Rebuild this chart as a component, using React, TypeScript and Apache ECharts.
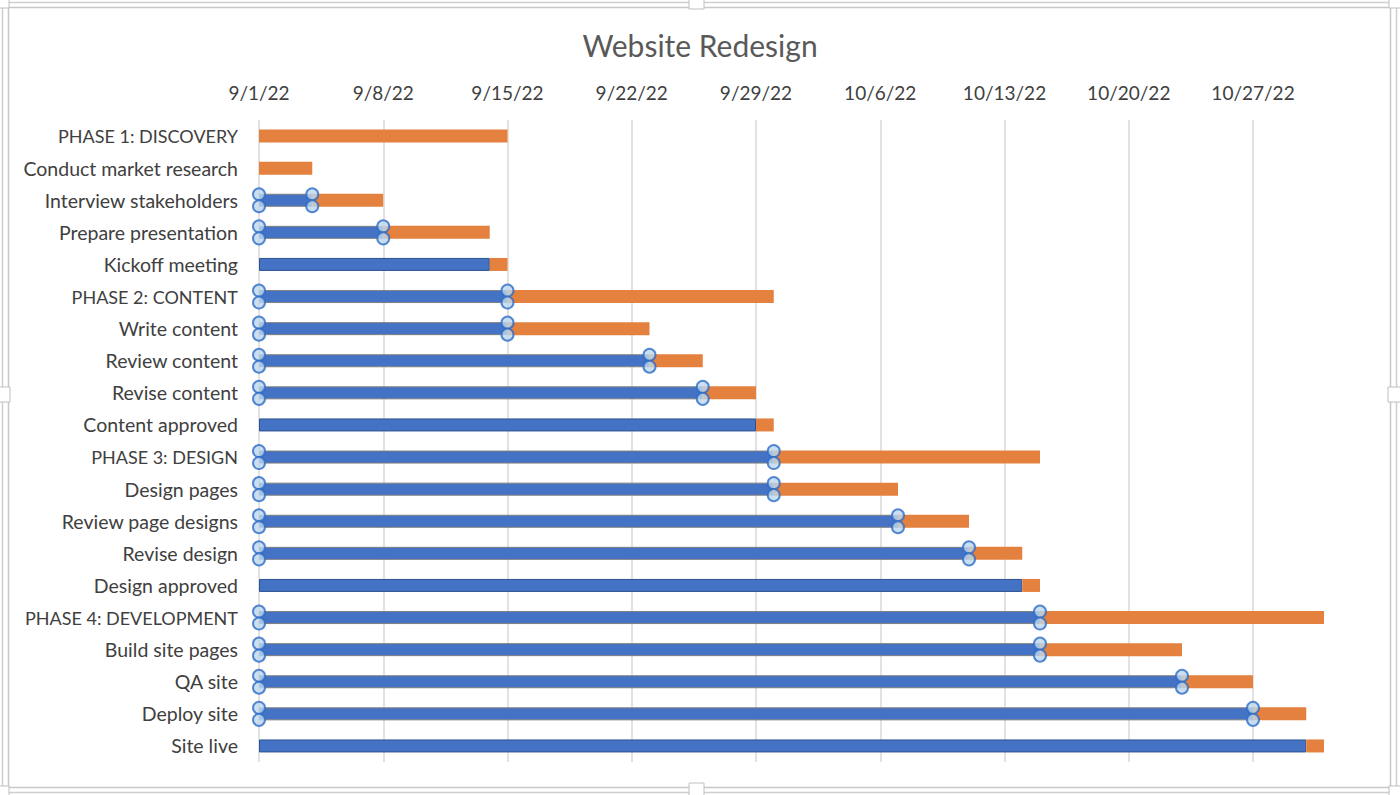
import React, { useEffect, useRef } from "react";
import * as echarts from "echarts";

const title = "Website Redesign";
const tasks = [
  "PHASE 1: DISCOVERY",
  "Conduct market research",
  "Interview stakeholders",
  "Prepare presentation",
  "Kickoff meeting",
  "PHASE 2: CONTENT",
  "Write content",
  "Review content",
  "Revise content",
  "Content approved",
  "PHASE 3: DESIGN",
  "Design pages",
  "Review page designs",
  "Revise design",
  "Design approved",
  "PHASE 4: DEVELOPMENT",
  "Build site pages",
  "QA site",
  "Deploy site",
  "Site live",
];
// days after 9/1/22
const startDays = [0, 0, 3, 7, 13, 14, 14, 22, 25, 28, 29, 29, 36, 40, 43, 44, 44, 52, 56, 59];
const durations = [14, 3, 4, 6, 1, 15, 8, 3, 3, 1, 15, 7, 4, 3, 1, 16, 8, 4, 3, 1];
const showHandles = [false, false, true, true, false, true, true, true, true, false, true, true, true, true, false, true, true, true, true, false];
const axisMinDay = 0;
const axisMaxDay = 60;
const tickStepDays = 7;

const fmtDate = (v: number) => {
  const d = new Date(2022, 8, 1 + Math.round(v));
  return `${d.getMonth() + 1}/${d.getDate()}/${String(d.getFullYear()).slice(2)}`;
};

export default function App() {
  const ref = useRef<HTMLDivElement>(null);
  useEffect(() => {
    document.body.style.margin = "0";
    if (!ref.current) return;
    const chart = echarts.init(ref.current, undefined, { renderer: "svg" });
    const font = "Lato, 'Noto Sans', sans-serif";

    const blueData = startDays.map((v, i) => ({
      value: v,
      itemStyle: {
        color: "#4472C4",
        borderColor: v === 0 ? "transparent" : showHandles[i] ? "#7f7f7f" : "#2F528F",
        borderWidth: v === 0 ? 0 : 1,
      },
    }));

    const handlePts: [number, string][] = [];
    tasks.forEach((t, i) => {
      if (showHandles[i]) {
        handlePts.push([0, t]);
        handlePts.push([startDays[i], t]);
      }
    });

    const handleStyle = {
      color: "#BDD7EE",
      borderColor: "#2E6BC6",
      borderWidth: 2,
    };

    const frameBox = (x: number, y: number, w: number, h: number) => ({
      type: "rect",
      shape: { x, y, width: w, height: h },
      style: { fill: "#fff", stroke: "#bfbfbf", lineWidth: 1 },
      z: 100,
    });

    chart.setOption({
      animation: false,
      backgroundColor: "#fff",
      title: {
        text: title,
        left: "center",
        top: 25,
        textStyle: { fontFamily: font, fontSize: 30, fontWeight: "normal", color: "#595959" },
      },
      grid: { left: 259, right: 76, top: 120, bottom: 33, containLabel: false },
      xAxis: {
        type: "value",
        position: "top",
        min: axisMinDay,
        max: axisMaxDay,
        interval: tickStepDays,
        axisLine: { show: false },
        axisTick: { show: false },
        axisLabel: {
          formatter: (v: number) => fmtDate(v),
          fontFamily: font,
          fontSize: 19,
          color: "#404040",
          margin: 18,
          showMaxLabel: false,
        },
        splitLine: { show: true, showMaxLine: false, lineStyle: { color: "#d9d9d9", width: 1.5 } },
      },
      yAxis: {
        type: "category",
        inverse: true,
        data: tasks,
        axisLine: { show: false },
        axisTick: { show: false },
        axisLabel: {
          fontFamily: font,
          fontSize: 19.5,
          color: "#404040",
          margin: 21,
          formatter: (v: string) => (v === v.toUpperCase() ? `{u|${v}}` : v),
          rich: { u: { fontFamily: font, fontSize: 18, color: "#404040" } },
        },
        splitLine: { show: false },
      },
      series: [
        {
          type: "bar",
          name: "Start",
          stack: "g",
          barWidth: 13,
          data: blueData,
          z: 2,
        },
        {
          type: "bar",
          name: "Duration",
          stack: "g",
          barWidth: 13,
          data: durations,
          itemStyle: { color: "#E5813E" },
          z: 2,
        },
        {
          type: "scatter",
          data: handlePts,
          symbol: "circle",
          symbolSize: 12,
          symbolOffset: [0, -6],
          itemStyle: handleStyle,
          z: 5,
        },
        {
          type: "scatter",
          data: handlePts,
          symbol: "circle",
          symbolSize: 12,
          symbolOffset: [0, 6],
          itemStyle: handleStyle,
          z: 5,
        },
      ],
      graphic: [
        {
          type: "rect",
          shape: { x: 2.5, y: 2.5, width: 1394, height: 790 },
          style: { fill: "none", stroke: "#cfcfcf", lineWidth: 1.5 },
          z: 99,
        },
        {
          type: "rect",
          shape: { x: 8.5, y: 7.5, width: 1382, height: 780 },
          style: { fill: "none", stroke: "#c8c8c8", lineWidth: 1.5 },
          z: 99,
        },
        frameBox(689, -1, 15, 10),
        frameBox(689, 783, 15, 13),
        frameBox(-1, 387, 11, 15),
        frameBox(1388, 387, 13, 15),
        frameBox(-1, -1, 10, 9),
        frameBox(1389, -1, 12, 9),
        frameBox(-1, 786, 10, 10),
        frameBox(1389, 786, 12, 10),
      ],
    });
    return () => chart.dispose();
  }, []);
  return <div ref={ref} style={{ width: 1400, height: 795 }} />;
}
